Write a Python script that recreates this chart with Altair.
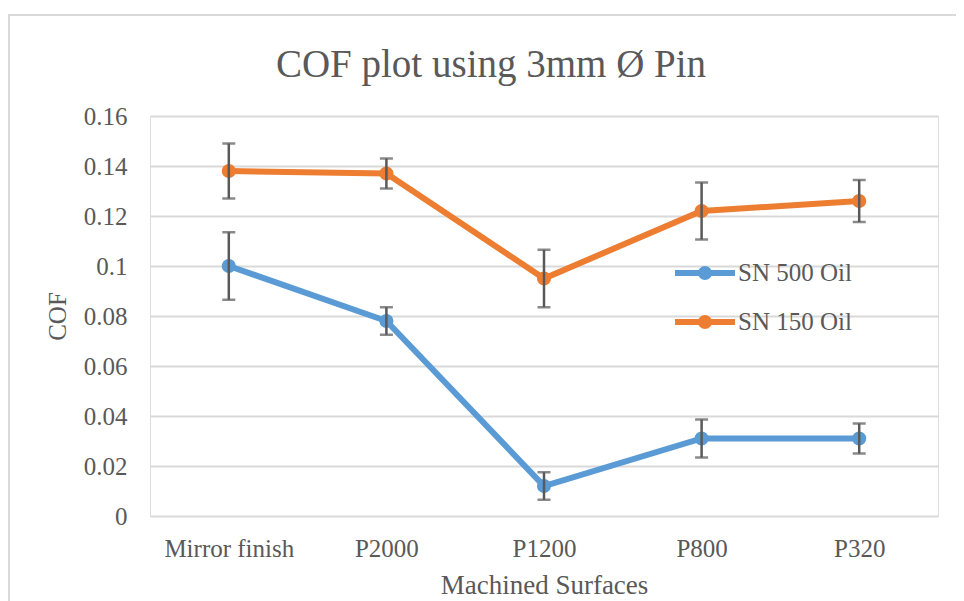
import altair as alt
import pandas as pd

categories = ["Mirror finish", "P2000", "P1200", "P800", "P320"]
series_names = ["SN 500 Oil", "SN 150 Oil"]
sn500 = [0.100, 0.078, 0.012, 0.031, 0.031]
sn500_err = [0.0135, 0.0055, 0.0055, 0.0076, 0.006]
sn150 = [0.138, 0.137, 0.095, 0.122, 0.126]
sn150_err = [0.011, 0.006, 0.0115, 0.0114, 0.0084]
colors = ["#5B9BD5", "#ED7D31"]
y_ticks = [0, 0.02, 0.04, 0.06, 0.08, 0.1, 0.12, 0.14, 0.16]

rows = []
for name, vals, errs in [(series_names[0], sn500, sn500_err), (series_names[1], sn150, sn150_err)]:
    for i, (c, v, e) in enumerate(zip(categories, vals, errs)):
        rows.append({"Surface": c, "Series": name, "COF": v, "lo": v - e, "hi": v + e, "order": i})
df = pd.DataFrame(rows)

FONT = "Liberation Serif"
GRAY = "#595959"

x_enc = alt.X("Surface:N", sort=categories,
              scale=alt.Scale(type="point", padding=0.5),
              axis=alt.Axis(title="Machined Surfaces", labelAngle=0, ticks=False, domain=False,
                            grid=False, labelPadding=20, titlePadding=11,
                            labelFontSize=25, titleFontSize=27, labelColor=GRAY, titleColor=GRAY,
                            labelFont=FONT, titleFont=FONT, titleFontWeight="normal"))
y_enc = alt.Y("COF:Q", scale=alt.Scale(domain=[0, 0.16], nice=False, zero=True),
              axis=alt.Axis(title="COF", values=y_ticks, format="~g", ticks=False, domain=False,
                            grid=True, gridColor="#d9d9d9", gridWidth=2, labelPadding=23,
                            titlePadding=13, labelFontSize=25, titleFontSize=25,
                            labelColor=GRAY, titleColor=GRAY, labelFont=FONT, titleFont=FONT,
                            titleFontWeight="normal"))
color_scale = alt.Scale(domain=series_names, range=colors)

base = alt.Chart(df)

legend_path = ("M-1,0H1"
               "M0.133,0A0.133,0.133,0,1,1,-0.133,0A0.133,0.133,0,1,1,0.133,0"
               "M0.05,0A0.05,0.05,0,1,1,-0.05,0A0.05,0.05,0,1,1,0.05,0")

frame = alt.Chart(pd.DataFrame({"k": [0]})).mark_rect(
    fill="transparent", stroke="#d9d9d9", strokeWidth=2
).encode(x=alt.value(-141), x2=alt.value(900), y=alt.value(-101), y2=alt.value(600))

lines = base.mark_line(strokeWidth=6).encode(
    x=x_enc, y=y_enc,
    color=alt.Color("Series:N", scale=color_scale, sort=series_names,
                    legend=alt.Legend(title=None, orient="none", legendX=522, legendY=124,
                                      symbolType=legend_path, symbolSize=3600,
                                      symbolStrokeWidth=6, labelFontSize=25, labelFont=FONT,
                                      labelColor=GRAY, labelOffset=0, rowPadding=0,
                                      padding=0)),
    order="order:Q",
    detail="Series:N",
)
points = base.mark_circle(size=200, opacity=1).encode(
    x=alt.X("Surface:N", sort=categories), y="COF:Q",
    color=alt.Color("Series:N", scale=color_scale, legend=None),
)
err_rule = base.mark_rule(color="#595959", strokeWidth=2.5).encode(
    x=alt.X("Surface:N", sort=categories), y="lo:Q", y2="hi:Q")
cap_lo = base.mark_tick(color="#595959", orient="horizontal", size=13, thickness=2.5).encode(
    x=alt.X("Surface:N", sort=categories), y="lo:Q")
cap_hi = base.mark_tick(color="#595959", orient="horizontal", size=13, thickness=2.5).encode(
    x=alt.X("Surface:N", sort=categories), y="hi:Q")

chart = alt.layer(frame, lines, points, err_rule, cap_lo, cap_hi).properties(
    width=788, height=400,
    title=alt.TitleParams("COF plot using 3mm Ø Pin", font=FONT, fontSize=39, color=GRAY,
                          fontWeight="normal", offset=-71, dx=-53, anchor="middle"),
    autosize=alt.AutoSizeParams(type="none"),
    padding={"left": 142, "top": 108, "right": 18, "bottom": 85},
).configure_view(stroke=None).configure(background="white")

chart.save("out.html", embed_options={"renderer": "svg", "actions": False})
